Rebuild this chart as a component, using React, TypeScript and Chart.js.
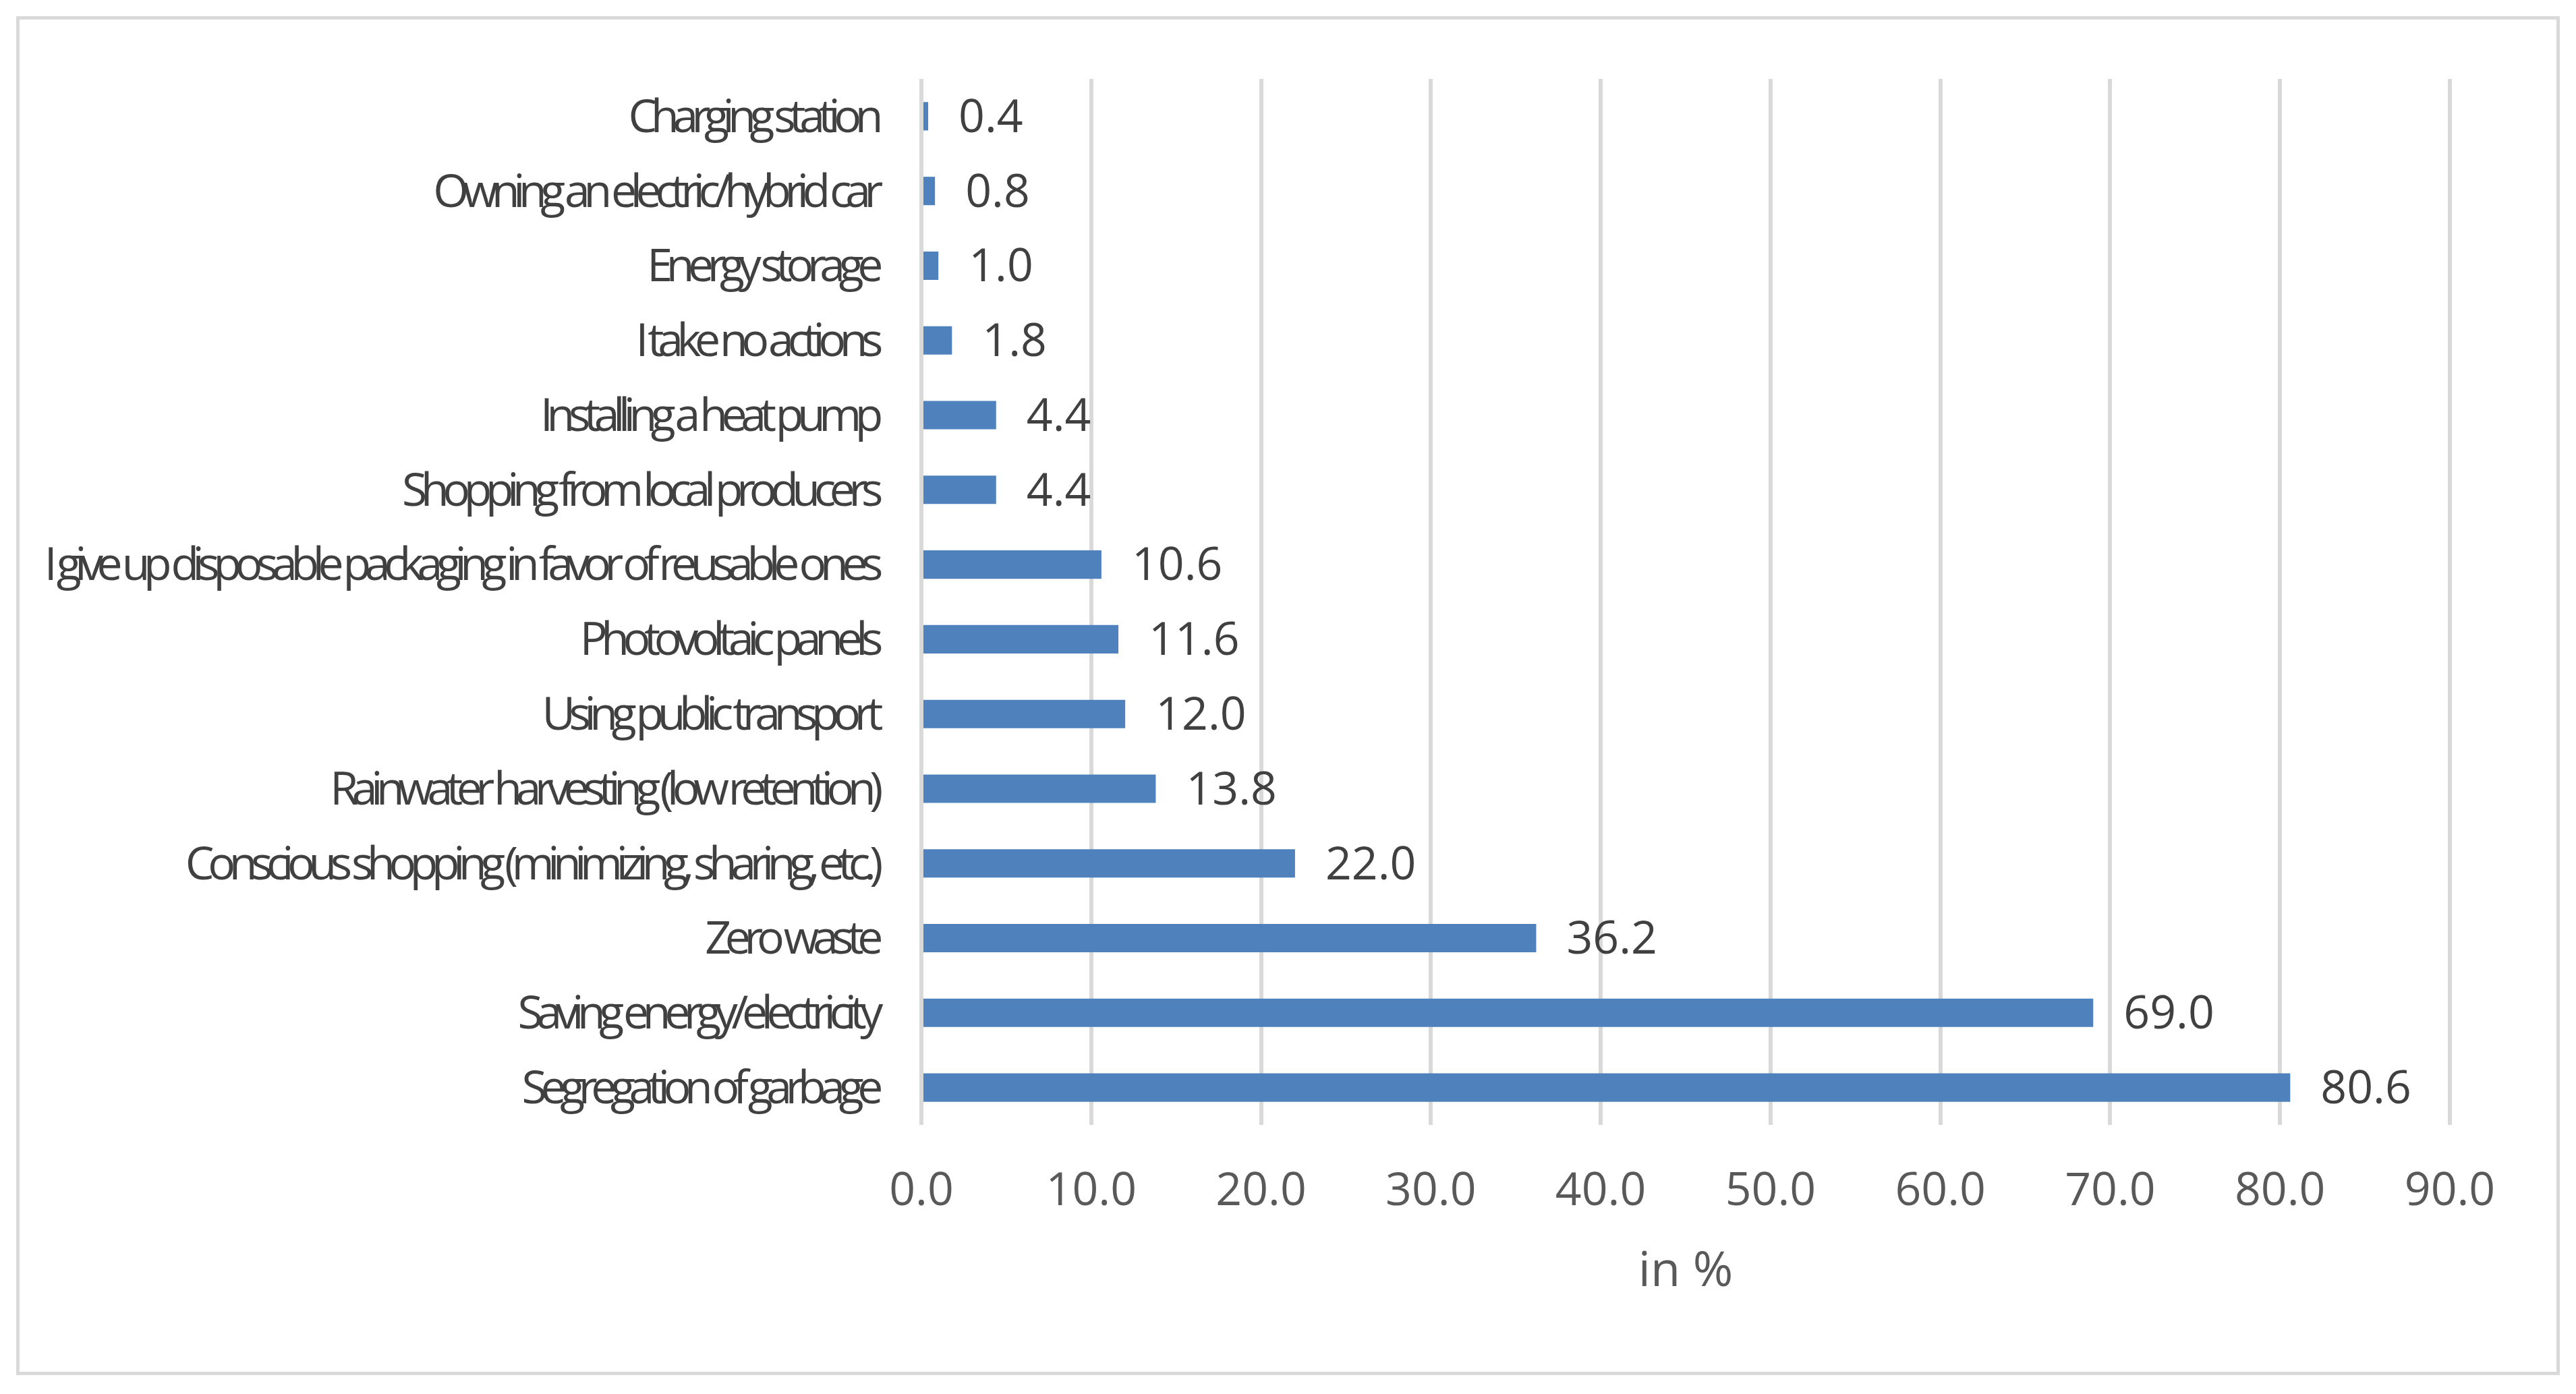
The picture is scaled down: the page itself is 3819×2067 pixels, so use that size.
import React, { useEffect, useRef } from "react";
import { Chart, registerables } from "chart.js";

Chart.register(...registerables);

const categories = [
  "Charging station",
  "Owning an electric/hybrid car",
  "Energy storage",
  "I take no actions",
  "Installing a heat pump",
  "Shopping from local producers",
  "I give up disposable packaging in favor of reusable ones",
  "Photovoltaic panels",
  "Using public transport",
  "Rainwater harvesting (low retention)",
  "Conscious shopping (minimizing, sharing, etc.)",
  "Zero waste",
  "Saving energy/electricity",
  "Segregation of garbage",
];

const values = [0.4, 0.8, 1.0, 1.8, 4.4, 4.4, 10.6, 11.6, 12.0, 13.8, 22.0, 36.2, 69.0, 80.6];

const xTickValues = [0, 10, 20, 30, 40, 50, 60, 70, 80, 90];
const xTickLabels = ["0.0", "10.0", "20.0", "30.0", "40.0", "50.0", "60.0", "70.0", "80.0", "90.0"];

const axisTitle = "in %";

const W = 3761;
const H = 2005;
const FONT = "'Open Sans', 'Liberation Sans', sans-serif";

export default function App() {
  const ref = useRef<HTMLCanvasElement | null>(null);

  useEffect(() => {
    const canvas = ref.current;
    if (!canvas) return;

    const labelSpacing = "-9.4px";

    const dataLabels = {
      id: "dataLabels",
      afterDatasetsDraw(chart: any) {
        const ctx = chart.ctx;
        const meta = chart.getDatasetMeta(0);
        ctx.save();
        ctx.font = `68px ${FONT}`;
        ctx.fillStyle = "#404040";
        ctx.textAlign = "left";
        ctx.textBaseline = "middle";
        meta.data.forEach((bar: any, i: number) => {
          ctx.fillText(values[i].toFixed(1), bar.x + 45, bar.y + 4);
        });
        ctx.restore();
        // condensed look for the category labels drawn next (ticks z: 1)
        (ctx as any).letterSpacing = labelSpacing;
      },
      afterDraw(chart: any) {
        (chart.ctx as any).letterSpacing = "0px";
      },
    };

    const chart = new Chart(canvas, {
      type: "bar",
      data: {
        labels: categories,
        datasets: [
          {
            data: values,
            backgroundColor: "#4f81bd",
            borderWidth: 0,
            barPercentage: 0.38,
            categoryPercentage: 1,
          },
        ],
      },
      options: {
        indexAxis: "y",
        responsive: false,
        animation: false,
        devicePixelRatio: 1,
        layout: { padding: { left: 0, right: 158, top: 88, bottom: 0 } },
        plugins: {
          legend: { display: false },
          tooltip: { enabled: false },
          title: { display: false },
        },
        scales: {
          x: {
            type: "linear",
            position: "bottom",
            min: 0,
            max: 90,
            afterBuildTicks: (scale: any) => {
              scale.ticks = xTickValues.map((v) => ({ value: v }));
            },
            ticks: {
              callback: (v: any) => {
                const i = xTickValues.indexOf(Number(v));
                return i >= 0 ? xTickLabels[i] : "";
              },
              color: "#595959",
              font: { family: FONT, size: 68 },
              padding: 59,
              maxRotation: 0,
              autoSkip: false,
            },
            grid: { color: "#d9d9d9", lineWidth: 6, drawTicks: false },
            border: { display: false },
            title: {
              display: true,
              text: axisTitle,
              color: "#595959",
              font: { family: FONT, size: 72 },
              padding: { top: 0, bottom: 104 },
            },
            afterFit: (scale: any) => {
              scale.height = 366;
              scale.paddingLeft = 0;
              scale.paddingRight = 0;
            },
          },
          y: {
            type: "category",
            ticks: {
              color: "#404040",
              font: { family: FONT, size: 68 },
              padding: 66,
              labelOffset: 4,
              autoSkip: false,
              z: 1,
            },
            grid: { display: false, drawTicks: false },
            border: { display: false },
            afterFit: (scale: any) => {
              scale.width = 1337;
              scale.paddingTop = 0;
              scale.paddingBottom = 0;
            },
          },
        },
      } as any,
      plugins: [dataLabels],
    });

    return () => {
      chart.destroy();
    };
  }, []);

  return (
    <div
      style={{
        position: "fixed",
        left: 24,
        top: 24,
        width: W + 10,
        height: H + 10,
        boxSizing: "border-box",
        border: "5px solid #d9d9d9",
        background: "#ffffff",
      }}
    >
      <canvas ref={ref} width={W} height={H} style={{ display: "block", width: W, height: H }} />
    </div>
  );
}
